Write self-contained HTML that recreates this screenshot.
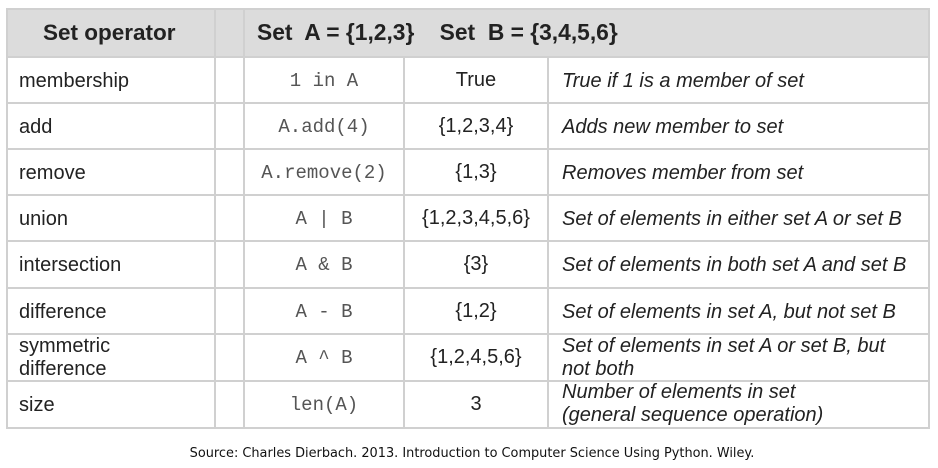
<!DOCTYPE html>
<html><head><meta charset="utf-8"><style>
body{margin:0;width:938px;height:468px;background:#fff;position:relative;overflow:hidden;font-family:"Liberation Sans",Arial,sans-serif;color:#222}
.h{position:absolute;background:#d0d0d0;height:2px}
.v{position:absolute;background:#d0d0d0;width:2px}
.t{position:absolute;font-size:20px;line-height:23px;white-space:nowrap}
.m{position:absolute;font-family:"Liberation Mono",monospace;font-size:19px;color:#555;text-align:center;white-space:nowrap}
.c{position:absolute;font-size:20px;text-align:center;white-space:nowrap}
.i{position:absolute;font-size:20px;font-style:italic;line-height:23px;white-space:nowrap}
</style></head><body>
<div style="position:absolute;left:7px;top:9px;width:922px;height:48px;background:#dcdcdc"></div>
<div class="t" style="left:43px;top:21px;font-size:22.5px;font-weight:bold">Set operator</div>
<div class="t" style="left:257px;top:21px;font-size:22.8px;font-weight:bold">Set&nbsp; A = {1,2,3} &nbsp;&nbsp; Set&nbsp; B = {3,4,5,6}</div>

<div class="h" style="left:7px;top:8px;width:923px"></div>
<div class="h" style="left:7px;top:56px;width:923px"></div>
<div class="h" style="left:7px;top:102px;width:923px"></div>
<div class="h" style="left:7px;top:148px;width:923px"></div>
<div class="h" style="left:7px;top:194px;width:923px"></div>
<div class="h" style="left:7px;top:240px;width:923px"></div>
<div class="h" style="left:7px;top:287px;width:923px"></div>
<div class="h" style="left:7px;top:333px;width:923px"></div>
<div class="h" style="left:7px;top:380px;width:923px"></div>
<div class="h" style="left:7px;top:427px;width:923px"></div>
<div class="v" style="left:6px;top:8px;height:421px"></div>
<div class="v" style="left:214px;top:8px;height:421px"></div>
<div class="v" style="left:243px;top:8px;height:421px"></div>
<div class="v" style="left:403px;top:56px;height:373px"></div>
<div class="v" style="left:547px;top:56px;height:373px"></div>
<div class="v" style="left:928px;top:8px;height:421px"></div>

<div class="t" style="left:19px;top:70px">membership</div>
<div class="t" style="left:19px;top:116px">add</div>
<div class="t" style="left:19px;top:162px">remove</div>
<div class="t" style="left:19px;top:208px">union</div>
<div class="t" style="left:19px;top:254px">intersection</div>
<div class="t" style="left:19px;top:301px">difference</div>
<div class="t" style="left:19px;top:335px">symmetric<br>difference</div>
<div class="t" style="left:19px;top:394px">size</div>

<div class="m" style="left:245px;width:158px;top:70px">1 in A</div>
<div class="m" style="left:245px;width:158px;top:116px">A.add(4)</div>
<div class="m" style="left:245px;width:158px;top:162px">A.remove(2)</div>
<div class="m" style="left:245px;width:158px;top:208px">A | B</div>
<div class="m" style="left:245px;width:158px;top:254px">A &amp; B</div>
<div class="m" style="left:245px;width:158px;top:301px">A - B</div>
<div class="m" style="left:245px;width:158px;top:347px">A ^ B</div>
<div class="m" style="left:245px;width:158px;top:394px">len(A)</div>

<div class="c" style="left:405px;width:142px;top:69px">True</div>
<div class="c" style="left:405px;width:142px;top:115px">{1,2,3,4}</div>
<div class="c" style="left:405px;width:142px;top:161px">{1,3}</div>
<div class="c" style="left:405px;width:142px;top:207px">{1,2,3,4,5,6}</div>
<div class="c" style="left:405px;width:142px;top:253px">{3}</div>
<div class="c" style="left:405px;width:142px;top:300px">{1,2}</div>
<div class="c" style="left:405px;width:142px;top:346px">{1,2,4,5,6}</div>
<div class="c" style="left:405px;width:142px;top:393px">3</div>

<div class="i" style="left:562px;top:70px">True if 1 is a member of set</div>
<div class="i" style="left:562px;top:116px">Adds new member to set</div>
<div class="i" style="left:562px;top:162px">Removes member from set</div>
<div class="i" style="left:562px;top:208px">Set of elements in either set A or set B</div>
<div class="i" style="left:562px;top:254px">Set of elements in both set A and set B</div>
<div class="i" style="left:562px;top:301px">Set of elements in set A, but not set B</div>
<div class="i" style="left:562px;top:335px">Set of elements in set A or set B, but<br>not both</div>
<div class="i" style="left:562px;top:381px">Number of elements in set<br>(general sequence operation)</div>

<div style="position:absolute;left:0;width:944px;top:446px;text-align:center;font-family:'DejaVu Sans',sans-serif;font-size:12.9px;color:#111">Source: Charles Dierbach. 2013. Introduction to Computer Science Using Python. Wiley.</div>
</body></html>
